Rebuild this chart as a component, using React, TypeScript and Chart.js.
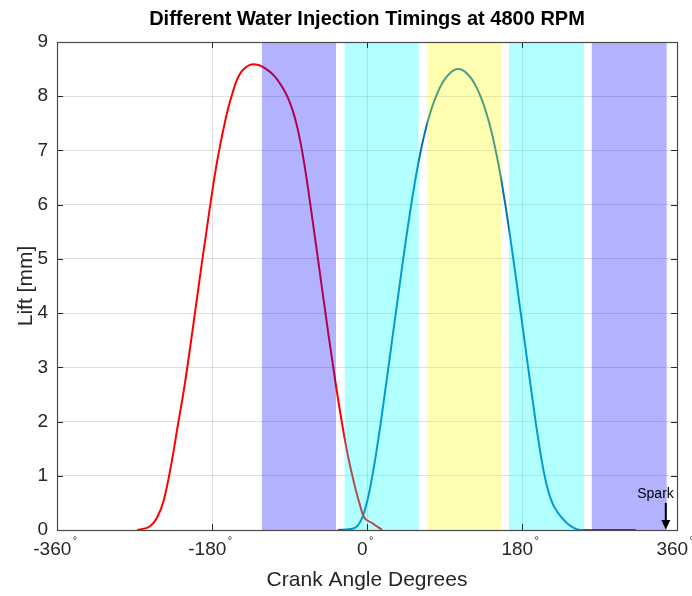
import React, { useEffect, useRef } from "react";
import { Chart, registerables } from "chart.js";

Chart.register(...registerables);

// ---- data ----
const redAngles = [-267, -252, -244, -236, -228, -220, -212, -202, -192, -182, -176, -170, -165, -161, -156, -151, -146, -141, -137, -132, -127, -122, -117, -112, -107, -103, -98, -93, -89, -85, -81, -77, -73, -68, -60, -52, -44, -36, -30, -22, -14, -8, -4, 6, 17.5];
const redLift = [0, 0.07, 0.22, 0.55, 1.15, 1.9, 2.65, 3.75, 4.9, 6.0, 6.62, 7.14, 7.52, 7.79, 8.07, 8.3, 8.45, 8.53, 8.57, 8.59, 8.58, 8.55, 8.5, 8.44, 8.36, 8.28, 8.16, 8.01, 7.86, 7.67, 7.43, 7.13, 6.77, 6.25, 5.35, 4.43, 3.52, 2.66, 2.06, 1.36, 0.8, 0.45, 0.25, 0.13, 0];

const blueAngles = [-34, -24, -14, -9, -4, 1, 6, 11, 16, 21, 26, 31, 36, 41, 46, 51, 56, 61, 66, 71, 76, 81, 86, 91, 96, 101, 106, 111, 116, 121, 126, 131, 136, 141, 146, 151, 156, 161, 166, 171, 176, 181, 186, 191, 196, 201, 206, 211, 216, 220, 224, 232, 240, 248, 312];
const blueLift = [0, 0.01, 0.04, 0.12, 0.29, 0.58, 0.98, 1.45, 1.98, 2.55, 3.13, 3.72, 4.3, 4.88, 5.44, 5.97, 6.45, 6.88, 7.25, 7.56, 7.82, 8.03, 8.2, 8.33, 8.42, 8.48, 8.5, 8.48, 8.42, 8.33, 8.2, 8.03, 7.82, 7.56, 7.25, 6.88, 6.45, 5.97, 5.44, 4.88, 4.3, 3.72, 3.13, 2.55, 1.98, 1.46, 1.02, 0.69, 0.47, 0.36, 0.27, 0.13, 0.04, 0, 0];

const xTicks = [-360, -180, 0, 180, 360];
const yTicks = [0, 1, 2, 3, 4, 5, 6, 7, 8, 9];

const bandStarts = [-122, -26, 70, 165, 261];
const bandEnds = [-36, 60, 156, 252, 348];
const bandColors = [
  "rgba(0,0,255,0.3)",
  "rgba(0,255,255,0.3)",
  "rgba(255,255,0,0.3)",
  "rgba(0,255,255,0.3)",
  "rgba(0,0,255,0.3)",
];

const sparkAngle = 347;
const sparkTopLift = 0.5;
const sparkTextLift = 0.66;
const sparkLabel = "Spark";

const titleText = "Different Water Injection Timings at 4800 RPM";
const xTitle = "Crank Angle Degrees";
const yTitle = "Lift [mm]";

const FONT = "'Liberation Sans', Arial, Helvetica, sans-serif";
const AXIS_COLOR = "#262626";
const TICK_FONT_SIZE = 19;
const X_TICK_PAD = 8;

const overlayPlugin = {
  id: "overlay",
  afterDatasetsDraw(chart: any) {
    const { ctx, chartArea, scales } = chart;
    const x = scales.x;
    ctx.save();
    for (let i = 0; i < bandStarts.length; i++) {
      const x0 = x.getPixelForValue(bandStarts[i]);
      const x1 = x.getPixelForValue(bandEnds[i]);
      ctx.fillStyle = bandColors[i];
      ctx.fillRect(x0, chartArea.top, x1 - x0, chartArea.bottom - chartArea.top);
    }
    ctx.restore();
  },
  afterDraw(chart: any) {
    const { ctx, chartArea, scales } = chart;
    const x = scales.x;
    const y = scales.y;
    const { left, right, top, bottom } = chartArea;
    ctx.save();
    // inner tick marks
    ctx.strokeStyle = AXIS_COLOR;
    ctx.lineWidth = 1;
    ctx.beginPath();
    for (const v of xTicks) {
      const px = Math.round(x.getPixelForValue(v)) + 0.5;
      ctx.moveTo(px, bottom);
      ctx.lineTo(px, bottom - 6);
      ctx.moveTo(px, top);
      ctx.lineTo(px, top + 6);
    }
    for (const v of yTicks) {
      const py = Math.round(y.getPixelForValue(v)) + 0.5;
      ctx.moveTo(left, py);
      ctx.lineTo(left + 6, py);
      ctx.moveTo(right, py);
      ctx.lineTo(right - 6, py);
    }
    ctx.stroke();
    // box
    ctx.strokeStyle = "#4a4a4a";
    ctx.lineWidth = 1.2;
    ctx.strokeRect(Math.round(left) + 0.5, Math.round(top) + 0.5, Math.round(right - left), Math.round(bottom - top));

    // degree signs on x tick labels
    ctx.fillStyle = AXIS_COLOR;
    const labelCenterY = x.top + X_TICK_PAD + (TICK_FONT_SIZE * 1.2) / 2;
    for (const v of xTicks) {
      const px = x.getPixelForValue(v);
      ctx.font = `${TICK_FONT_SIZE}px ${FONT}`;
      const full = ctx.measureText(String(v) + "\u2002").width;
      const num = ctx.measureText(String(v)).width;
      const numRight = px - full / 2 + num;
      ctx.font = `11px ${FONT}`;
      ctx.textAlign = "left";
      ctx.textBaseline = "middle";
      ctx.fillText("\u00B0", numRight + 1.5, labelCenterY - 8);
    }

    // spark arrow
    const sx = x.getPixelForValue(sparkAngle);
    const sy0 = y.getPixelForValue(sparkTopLift);
    const sy1 = y.getPixelForValue(0);
    ctx.strokeStyle = "#000";
    ctx.fillStyle = "#000";
    ctx.lineWidth = 2;
    ctx.beginPath();
    ctx.moveTo(sx, sy0);
    ctx.lineTo(sx, sy1 - 8);
    ctx.stroke();
    ctx.beginPath();
    ctx.moveTo(sx - 4.5, sy1 - 10);
    ctx.lineTo(sx + 4.5, sy1 - 10);
    ctx.lineTo(sx, sy1 - 0.5);
    ctx.closePath();
    ctx.fill();
    ctx.font = `14px ${FONT}`;
    ctx.textAlign = "right";
    ctx.textBaseline = "middle";
    ctx.fillText(sparkLabel, sx + 8, y.getPixelForValue(sparkTextLift));
    ctx.restore();
  },
};

export default function App() {
  const canvasRef = useRef<HTMLCanvasElement | null>(null);

  useEffect(() => {
    if (!canvasRef.current) return;
    Chart.defaults.font.family = FONT;
    const chart = new Chart(canvasRef.current, {
      type: "line",
      data: {
        datasets: [
          {
            label: "Exhaust",
            data: redAngles.map((a, i) => ({ x: a, y: redLift[i] })),
            borderColor: "#ff0000",
            borderWidth: 2,
            pointRadius: 0,
            fill: false,
            cubicInterpolationMode: "monotone",
          },
          {
            label: "Intake",
            data: blueAngles.map((a, i) => ({ x: a, y: blueLift[i] })),
            borderColor: "#0072bd",
            borderWidth: 2,
            pointRadius: 0,
            fill: false,
            cubicInterpolationMode: "monotone",
          },
        ],
      },
      options: {
        animation: false,
        responsive: false,
        maintainAspectRatio: false,
        layout: { padding: { top: 0, right: 15, bottom: 0, left: 0 } },
        plugins: {
          legend: { display: false },
          tooltip: { enabled: false },
          title: {
            display: true,
            fullSize: false,
            text: titleText,
            color: "#000",
            font: { size: 20, weight: "bold", family: FONT },
            padding: { top: 7.5, bottom: 10.5 },
          },
        },
        scales: {
          x: {
            type: "linear",
            min: -360,
            max: 360,
            afterBuildTicks: (scale: any) => {
              scale.ticks = xTicks.map((v) => ({ value: v }));
            },
            afterFit: (scale: any) => {
              scale.height = 66;
              scale.paddingLeft = 0;
              scale.paddingRight = 0;
            },
            ticks: {
              autoSkip: false,
              maxRotation: 0,
              padding: X_TICK_PAD,
              color: AXIS_COLOR,
              font: { size: TICK_FONT_SIZE, family: FONT },
              callback: (v: any) => String(v) + "\u2002",
            },
            grid: { color: "rgba(38,38,38,0.15)", drawTicks: false, lineWidth: 1 },
            border: { display: false },
            title: {
              display: true,
              text: xTitle,
              color: AXIS_COLOR,
              font: { size: 21, family: FONT },
              padding: { top: 0, bottom: 3.5 },
            },
          },
          y: {
            type: "linear",
            min: 0,
            max: 9,
            afterBuildTicks: (scale: any) => {
              scale.ticks = yTicks.map((v) => ({ value: v }));
            },
            afterFit: (scale: any) => {
              scale.width = 57;
            },
            ticks: {
              padding: 9,
              color: AXIS_COLOR,
              font: { size: TICK_FONT_SIZE, family: FONT },
            },
            grid: { color: "rgba(38,38,38,0.15)", drawTicks: false, lineWidth: 1 },
            border: { display: false },
            title: {
              display: true,
              text: yTitle,
              color: AXIS_COLOR,
              font: { size: 21, family: FONT },
              padding: { top: 14, bottom: 0 },
            },
          },
        },
      },
      plugins: [overlayPlugin],
    } as any);
    return () => chart.destroy();
  }, []);

  return (
    <div style={{ position: "fixed", left: 0, top: 0, width: 692, height: 596, background: "#fff" }}>
      <canvas ref={canvasRef} width={692} height={596} style={{ display: "block" }} />
    </div>
  );
}
